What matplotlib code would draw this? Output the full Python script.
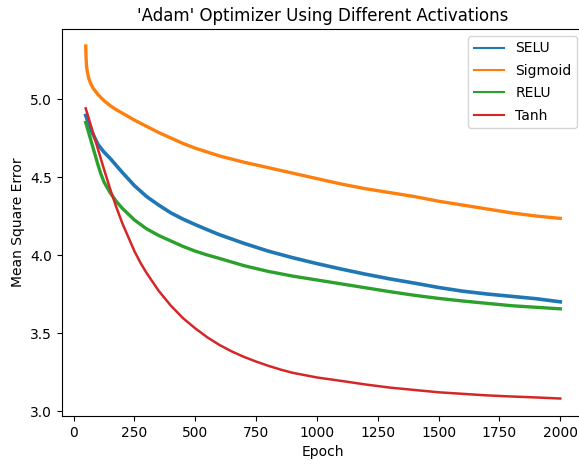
import numpy as np
import matplotlib
matplotlib.use('Agg')
import matplotlib.pyplot as plt

# values (mean square error per epoch)
selu_epochs = [50, 60, 75, 100, 125, 150, 175, 200, 250, 300, 350, 400, 450,
               500, 550, 600, 700, 800, 900, 1000, 1100, 1200, 1300, 1400,
               1500, 1600, 1700, 1800, 1900, 2000]
selu_mse = [4.895, 4.85, 4.79, 4.71, 4.66, 4.62, 4.575, 4.53, 4.445, 4.375,
            4.32, 4.27, 4.23, 4.195, 4.162, 4.13, 4.075, 4.025, 3.983, 3.945,
            3.91, 3.877, 3.847, 3.82, 3.792, 3.768, 3.75, 3.735, 3.72, 3.70]

sigmoid_epochs = [50, 51, 53, 56, 62, 70, 80, 90, 100, 112, 125, 150, 175,
                  200, 250, 300, 350, 400, 450, 500, 550, 600, 700, 800, 900,
                  1000, 1100, 1200, 1300, 1400, 1500, 1600, 1700, 1800, 1900,
                  2000]
sigmoid_mse = [5.34, 5.28, 5.22, 5.18, 5.135, 5.10, 5.07, 5.05, 5.03, 5.01,
               4.99, 4.958, 4.932, 4.91, 4.865, 4.825, 4.785, 4.75, 4.715,
               4.685, 4.66, 4.635, 4.595, 4.56, 4.525, 4.49, 4.455, 4.425,
               4.40, 4.375, 4.345, 4.32, 4.295, 4.27, 4.25, 4.235]

relu_epochs = [50, 75, 100, 111, 125, 150, 175, 200, 250, 300, 350, 400, 450,
               500, 550, 600, 700, 800, 900, 1000, 1100, 1200, 1300, 1400,
               1500, 1600, 1700, 1800, 1900, 2000]
relu_mse = [4.85, 4.715, 4.58, 4.525, 4.468, 4.40, 4.345, 4.30, 4.225, 4.168,
            4.125, 4.09, 4.055, 4.025, 4.00, 3.978, 3.932, 3.895, 3.865, 3.84,
            3.815, 3.79, 3.765, 3.742, 3.722, 3.705, 3.69, 3.675, 3.665, 3.655]

tanh_epochs = [50, 75, 100, 125, 150, 175, 200, 225, 250, 275, 300, 350, 400,
               450, 500, 550, 600, 650, 700, 750, 800, 850, 900, 1000, 1100,
               1200, 1300, 1400, 1500, 1600, 1700, 1800, 1900, 2000]
tanh_mse = [4.94, 4.81, 4.68, 4.55, 4.425, 4.31, 4.205, 4.115, 4.025, 3.95,
            3.885, 3.77, 3.675, 3.595, 3.53, 3.472, 3.423, 3.382, 3.347, 3.317,
            3.29, 3.266, 3.245, 3.215, 3.193, 3.17, 3.15, 3.135, 3.12, 3.11,
            3.10, 3.093, 3.087, 3.08]


def main():
    fig = plt.figure(figsize=(5.79, 4.66), dpi=100)
    ax = fig.add_axes([62/579, 50/466, 522/579, 387/466])

    ax.plot(selu_epochs, selu_mse, color='#1f77b4', lw=2.6, label='SELU')
    ax.plot(sigmoid_epochs, sigmoid_mse, color='#ff7f0e', lw=2.4, label='Sigmoid')
    ax.plot(relu_epochs, relu_mse, color='#2ca02c', lw=2.4, label='RELU')
    ax.plot(tanh_epochs, tanh_mse, color='#d62728', lw=1.8, label='Tanh')

    ax.set_xlim(-47.5, 2097.5)
    ax.set_ylim(2.968, 5.449)
    ax.set_xticks([0, 250, 500, 750, 1000, 1250, 1500, 1750, 2000])
    ax.set_yticks([3.0, 3.5, 4.0, 4.5, 5.0])

    ax.set_title("'Adam' Optimizer Using Different Activations")
    ax.set_xlabel('Epoch')
    ax.set_ylabel('Mean Square Error')
    leg = ax.legend(loc='upper right', handlelength=2.2, labelspacing=0.6)
    for line in leg.get_lines():
        line.set_linewidth(1.5)

    fig.savefig('out.png', dpi=100)


main()
